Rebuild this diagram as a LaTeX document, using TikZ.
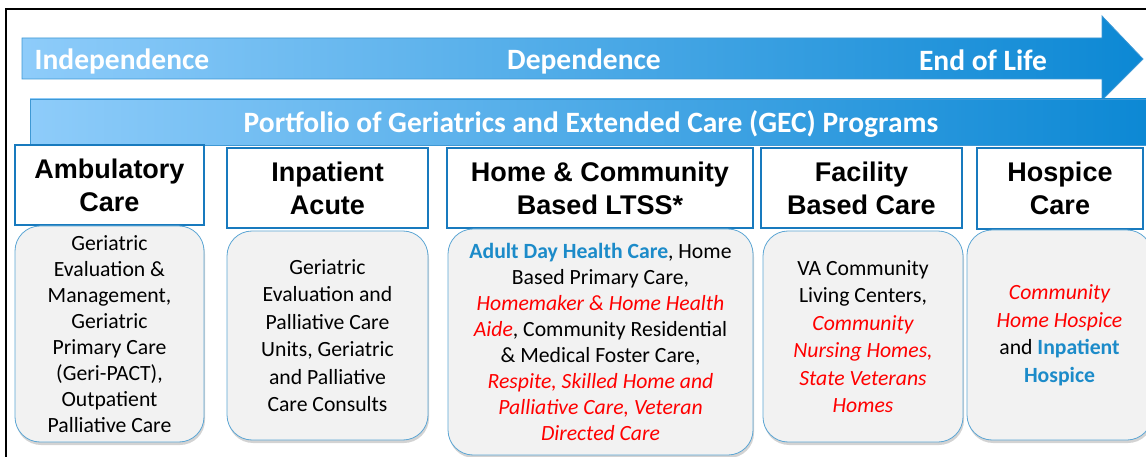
\documentclass[tikz,border=0pt]{standalone}
\usepackage{fontspec}
\setmainfont{Carlito}
\newfontfamily\headfont{Liberation Sans}
\usepackage{tikz}
\usetikzlibrary{shadows}
\definecolor{barlight}{RGB}{142,204,250}
\definecolor{bardark}{RGB}{12,136,212}
\definecolor{barline}{RGB}{62,152,212}
\definecolor{boxline}{RGB}{24,122,190}
\definecolor{softline}{RGB}{92,166,212}
\definecolor{softgray}{RGB}{242,242,242}
\definecolor{progblue}{RGB}{28,139,201}
\definecolor{progred}{RGB}{255,0,0}
\newcommand{\redit}[1]{{\color{progred}\itshape #1}}
\newcommand{\bluebf}[1]{{\color{progblue}\bfseries #1}}

\begin{document}
\begin{tikzpicture}[x=1pt, y=-1pt,
    bartext/.style={text=white, font=\bfseries\fontsize{29.5}{33}\selectfont, inner sep=0pt},
    head/.style={rectangle, draw=boxline, line width=1.2pt, fill=white, align=center, inner sep=0pt, font=\headfont\bfseries\fontsize{27}{33}\selectfont},
    prog/.style={rectangle, rounded corners=25pt, draw=softline, line width=0.8pt, fill=softgray, align=center, inner sep=0pt, font=\fontsize{21.7}{26}\selectfont, drop shadow={shadow xshift=1pt, shadow yshift=-3pt, opacity=0.35}}
]
    \useasboundingbox (0,0) rectangle (1146,457);
    \draw[line width=1.2pt] (6,457) -- (6,9) -- (1146,9);

    % timeline arrow
    \draw[barline, line width=0.8pt, left color=barlight, right color=bardark]
        (22,38) -- (1102,38) -- (1102,16) -- (1143,59) -- (1102,100) -- (1102,79) -- (22,79) -- cycle;
    \node[bartext] (ind) at (122,61) {Independence};
    \node[bartext] (dep) at (584,61) {Dependence};
    \node[bartext] (eol) at (983,60) {End of Life};

    \node[bartext, draw=barline, line width=0.8pt, left color=barlight, right color=bardark, minimum width=1120, minimum height=46] (gec) at (590,122) {};
    \node[bartext] (gectext) at (591,124) {Portfolio of Geriatrics and Extended Care (GEC) Programs};

    \node[head, minimum width=189, minimum height=80] (h1) at (109.5,185) {Ambulatory\\Care};
    \node[head, minimum width=201, minimum height=80] (h2) at (327.5,188) {Inpatient\\Acute};
    \node[head, minimum width=306, minimum height=80] (h3) at (600,188) {Home \& Community\\Based LTSS*};
    \node[head, minimum width=201, minimum height=80] (h4) at (861.5,188) {Facility\\Based Care};
    \node[head, minimum width=166, minimum height=81] (h5) at (1060,188.5) {Hospice\\Care};

    \node[prog, minimum width=189, minimum height=216] (p1) at (109.5,334) {Geriatric\\Evaluation \&\\Management,\\Geriatric\\Primary Care\\(Geri-PACT),\\Outpatient\\Palliative Care};
    \node[prog, minimum width=201, minimum height=209, font=\fontsize{21.7}{27.5}\selectfont] (p2) at (327.5,335.5) {Geriatric\\Evaluation and\\Palliative Care\\Units, Geriatric\\and Palliative\\Care Consults};
    \node[prog, minimum width=305, minimum height=226] (p3) at (600.5,342) {\bluebf{Adult Day Health Care}, Home\\Based Primary Care,\\\redit{Homemaker \& Home Health}\\\redit{Aide}, Community Residential\\\& Medical Foster Care,\\\redit{Respite, Skilled Home and}\\\redit{Palliative Care, Veteran}\\\redit{Directed Care}};
    \node[prog, minimum width=200, minimum height=211, font=\fontsize{21.7}{27.5}\selectfont] (p4) at (863,336.5) {VA Community\\Living Centers,\\\redit{Community}\\\redit{Nursing Homes,}\\\redit{State Veterans}\\\redit{Homes}};
    \node[prog, minimum width=185, minimum height=210, font=\fontsize{21.7}{27.5}\selectfont] (p5) at (1059.5,335) {\redit{Community}\\\redit{Home Hospice}\\and \bluebf{Inpatient}\\\bluebf{Hospice}};
\end{tikzpicture}
\end{document}
